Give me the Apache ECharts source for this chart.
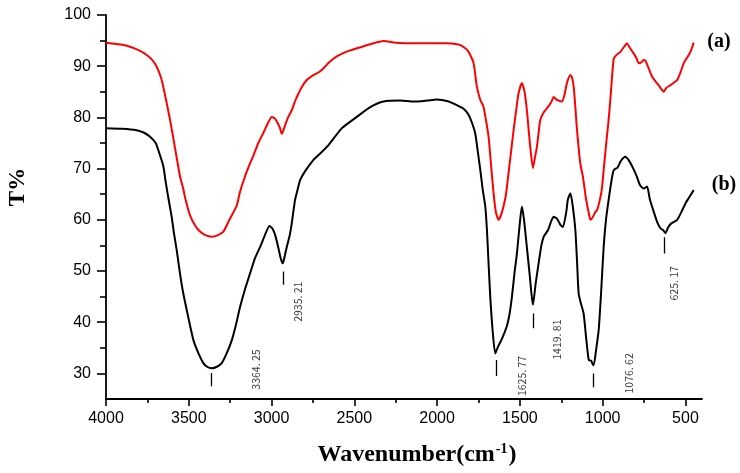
<!DOCTYPE html>
<html>
<head>
<meta charset="utf-8">
<script src="https://cdn.jsdelivr.net/npm/echarts@6/dist/echarts.min.js"></script>
<style>html,body{margin:0;padding:0;background:#fff}#c{width:740px;height:473px}</style>
</head>
<body>
<div id="c"></div>
<script>
// ---- data ----
const waveA = [4000,3900,3855,3800,3754,3720,3694,3670,3654,3613,3583,3553,3533,3520,3492,3460,3432,3400,3361,3330,3291,3261,3230,3210,3190,3160,3130,3110,3080,3049,3020,2999,2980,2968,2950,2938,2925,2918,2900,2878,2860,2847,2820,2787,2750,2706,2650,2606,2550,2485,2404,2324,2250,2142,2050,1941,1880,1860,1830,1810,1790,1780,1770,1760,1740,1720,1705,1689,1675,1659,1645,1629,1610,1588,1578,1560,1538,1520,1508,1488,1475,1467,1455,1447,1435,1421,1410,1397,1385,1377,1356,1336,1310,1296,1276,1246,1230,1216,1195,1185,1175,1165,1155,1145,1135,1120,1111,1100,1085,1074,1060,1045,1034,1020,1005,994,980,964,950,933,913,893,870,853,840,813,795,783,765,755,742,725,702,680,662,645,631,615,590,570,550,530,510,480,465,450];
const transA = [94.6,94.2,93.8,93.1,92.2,91.2,89.9,88,86,79.5,74,68.5,66,64,60.8,58.8,57.7,57,56.7,56.9,57.7,59.6,61.5,62.8,65.5,68.5,71,72.5,75,77,79,80.1,79.8,79.2,78,76.8,77.8,78.5,80,81.4,83,84,85.8,87.3,88.2,89,90.8,91.9,92.8,93.5,94.3,94.9,94.6,94.5,94.5,94.5,94.3,94.1,93.5,92.8,91.5,90.6,88.5,86,83.5,82.1,79.5,76.2,71,65.2,61.5,60,61.3,64.2,66.5,71.5,77.5,82,84.7,86.7,85.5,84,80.5,77.5,73.5,70.1,72,74.3,77.5,79.5,81,81.8,83,84,83.4,83.1,84.5,86.7,88.3,87.8,86,82,77.5,74,71,68.5,66.5,64,61.5,60,60.5,61.5,61.9,63.5,66,69.7,74.5,79.5,85,91.5,92.3,92.8,93.8,94.5,93.8,92.5,91.5,90.6,90.8,91.2,91.1,89.8,88,87,86.3,85.5,85,85.8,86.3,86.8,87.3,88.8,90.6,92.2,93.2,94.6];

const waveB = [4000,3900,3815,3770,3734,3700,3684,3654,3640,3623,3603,3590,3573,3553,3533,3500,3472,3440,3412,3390,3361,3330,3301,3270,3240,3215,3190,3160,3130,3100,3069,3040,3013,2995,2978,2958,2945,2932,2920,2908,2890,2878,2858,2838,2827,2797,2747,2727,2656,2575,2485,2404,2324,2223,2142,2060,2002,1940,1881,1840,1810,1790,1770,1755,1739,1725,1709,1699,1690,1679,1665,1649,1635,1620,1609,1595,1578,1563,1548,1533,1518,1500,1488,1475,1458,1440,1430,1421,1405,1387,1370,1356,1330,1310,1296,1275,1255,1240,1220,1210,1195,1180,1165,1155,1145,1130,1115,1100,1084,1070,1060,1054,1040,1024,1010,994,980,964,945,933,910,890,863,840,815,793,775,752,732,715,692,670,650,635,621,605,585,550,525,500,475,450];
const transB = [77.9,77.8,77.5,77,76.2,75,73.6,70.5,67.5,64.2,60.5,57.5,54.1,49.5,45.6,40.5,36.5,33.8,32,31.3,31,31.3,32,34,36.5,39.5,43,46.5,49.5,52.5,54.7,57,58.8,58.3,57,54.4,52.5,51.5,53,54.7,57,59.3,63.9,66.5,67.8,69.5,71.7,72.3,74.6,77.9,80.1,82,83.1,83.3,83.1,83.3,83.5,83.2,82.4,81.7,80.5,79,76.9,73.5,69.7,66,62.6,58,52,45,38.5,33.9,35,36,36.7,37.8,39.3,41.5,45,49.5,53.4,59.5,62.6,60,54.7,49,45.5,43.4,47.5,51.5,55,56.7,58,59.8,60.6,60.2,59,58.6,61.5,64,65.2,62.5,58,52,45.6,43.5,41.7,37,32.6,32.5,31.8,31.6,34.5,38.5,45.5,54.7,60,63.9,68,69.7,70.2,71.5,72.3,71.5,70,68.4,66.8,66.1,66.5,64,61.6,59.5,58.3,58,57.4,58.5,59.3,60,61.5,63.2,64.5,65.8];

// peak annotations
const peakLabels = ['3364. 25','2935. 21','1625. 77','1419. 81','1076. 62','625. 17'];
const markerWave = [3365, 2932, 1644, 1422, 1055, 627];
const markerTop = [30.1, 49.9, 32.6, 41.7, 30.0, 56.6];
const markerBottom = [27.5, 47.3, 29.5, 38.8, 27.3, 53.4];
const labelWave = [3094, 2840, 1485, 1274, 843, 571];
const labelT = [30.75, 44.0, 29.5, 36.6, 30.0, 47.6];

// axis ticks
const xMajor = [4000,3500,3000,2500,2000,1500,1000,500];
const xMinor = [3750,3250,2750,2250,1750,1250,750];
const yMajor = [30,40,50,60,70,80,90,100];
const yMinor = [35,45,55,65,75,85,95];

const seriesNames = ['(a)','(b)'];

// ---- chart ----
const chart = echarts.init(document.getElementById('c'), null, {renderer:'canvas'});
const axisColor = '#000';
const tickFont = {color:'#000', fontFamily:'Liberation Sans, Arial, sans-serif', fontSize:16, formatter:v=>String(v)};

const option = {
  backgroundColor:'#fff',
  animation:false,
  grid:{left:106, right:38, top:15, bottom:74, containLabel:false},
  xAxis:[
    {type:'value', min:400, max:4000, inverse:true, position:'bottom',
     axisLine:{show:true, lineStyle:{color:axisColor, width:1.8}},
     axisTick:{show:true, inside:false, length:7, customValues:xMajor, lineStyle:{color:axisColor, width:1.6}},
     axisLabel:Object.assign({customValues:xMajor, margin:12}, tickFont),
     splitLine:{show:false}},
    {type:'value', min:400, max:4000, inverse:true, position:'bottom',
     axisLine:{show:false},
     axisTick:{show:true, length:4, customValues:xMinor, lineStyle:{color:axisColor, width:1.6}},
     axisLabel:{show:false}, splitLine:{show:false}}
  ],
  yAxis:[
    {type:'value', min:25, max:100, position:'left',
     axisLine:{show:true, lineStyle:{color:axisColor, width:1.8}},
     axisTick:{show:true, length:9, customValues:yMajor, lineStyle:{color:axisColor, width:1.6}},
     axisLabel:Object.assign({customValues:yMajor, margin:15}, tickFont),
     splitLine:{show:false}},
    {type:'value', min:25, max:100, position:'left',
     axisLine:{show:false},
     axisTick:{show:true, length:6, customValues:yMinor, lineStyle:{color:axisColor, width:1.6}},
     axisLabel:{show:false}, splitLine:{show:false}}
  ],
  series:[
    {name:seriesNames[0], type:'line', xAxisIndex:0, yAxisIndex:0, showSymbol:false, symbol:'none', smooth:0.2,
     lineStyle:{color:'#ff0000', width:2}, data:waveA.map((w,i)=>[w, transA[i]])},
    {name:seriesNames[1], type:'line', xAxisIndex:0, yAxisIndex:0, showSymbol:false, symbol:'none', smooth:0.2,
     lineStyle:{color:'#000', width:2}, data:waveB.map((w,i)=>[w, transB[i]])},
    {type:'lines', coordinateSystem:'cartesian2d', xAxisIndex:0, yAxisIndex:0, silent:true,
     lineStyle:{color:'#000', width:1.3, opacity:1},
     data:markerWave.map((w,i)=>({coords:[[w, markerTop[i]],[w, markerBottom[i]]]}))},
    {type:'scatter', xAxisIndex:0, yAxisIndex:0, silent:true, symbolSize:2,
     itemStyle:{color:'rgba(0,0,0,0)'},
     labelLayout:{hideOverlap:false},
     label:{show:true, position:'inside', rotate:90, color:'#000', fontFamily:'"Noto Sans CJK SC", sans-serif', fontSize:10.5,
            formatter:p=>p.value[2]},
     data:labelWave.map((w,i)=>[w, labelT[i], peakLabels[i]])}
  ],
  graphic:[
    {type:'text', x:719, y:42, style:{text:seriesNames[0], font:'bold 20px "Liberation Serif", serif', fill:'#000', align:'center', verticalAlign:'middle', textAlign:'center', textVerticalAlign:'middle'}},
    {type:'text', x:724, y:185, style:{text:seriesNames[1], font:'bold 20px "Liberation Serif", serif', fill:'#000', align:'center', verticalAlign:'middle', textAlign:'center', textVerticalAlign:'middle'}},
    {type:'text', x:18, y:187, rotation:Math.PI/2, style:{text:'T%', font:'bold 23px "Liberation Serif", serif', fill:'#000', align:'center', verticalAlign:'middle', textAlign:'center', textVerticalAlign:'middle'}},
    {type:'text', x:417, y:455, style:{text:'{m|Wavenumber(cm}{s|-1}{m|)}', fill:'#000', align:'center', verticalAlign:'middle', textAlign:'center', textVerticalAlign:'middle',
      rich:{m:{font:'bold 24px "Liberation Serif", serif', fill:'#000', color:'#000'},
            s:{font:'bold 14px "Liberation Serif", serif', fill:'#000', color:'#000', padding:[0,1,12,1]}}}}
  ]
};
chart.setOption(option);
</script>
</body>
</html>
